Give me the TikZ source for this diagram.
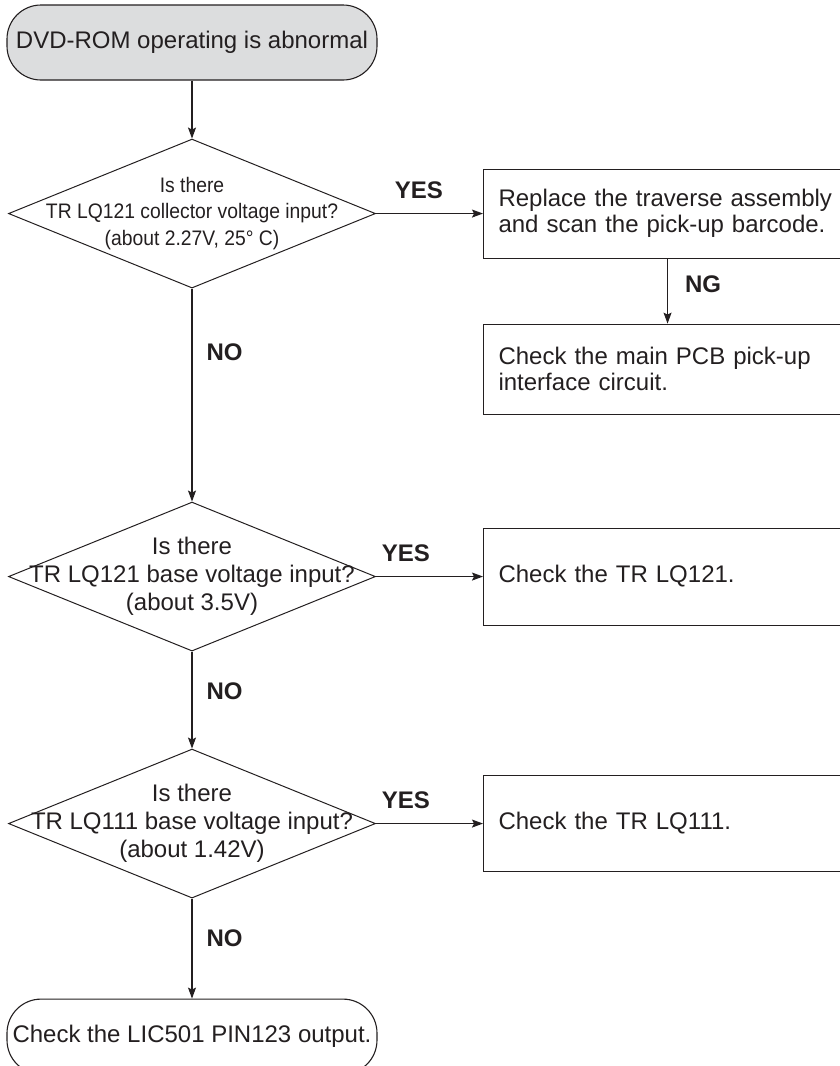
\documentclass[tikz,border=0pt]{standalone}
\usepackage{fontspec}
\setmainfont{Liberation Sans}
\newfontfamily\narrowfont{Liberation Sans}[FakeStretch=0.92]
\usetikzlibrary{arrows.meta,positioning,shapes.geometric}
\definecolor{ink}{HTML}{231F20}
\definecolor{termgray}{HTML}{DCDDDE}
\newcommand\qtext[1]{\makebox[0pt]{\begin{tabular}{@{}c@{}}#1\end{tabular}}}

\begin{document}
\begin{tikzpicture}[x=1pt, y=1pt, font=\fontsize{24}{26}\selectfont, color=ink,
  term/.style={draw, rounded corners=34pt, minimum width=370pt, minimum height=75pt, inner sep=0pt, line width=1.1pt, fill=#1},
  term/.default=white,
  quest/.style={diamond, draw, aspect=2.46, minimum width=367pt, minimum height=149pt, inner sep=0pt, line width=1pt, font=\fontsize{24}{28}\selectfont},
  act/.style={draw, align=left, text width=338pt, inner xsep=15pt, inner ysep=0pt, line width=1.1pt, minimum height=#1},
  act/.default=90pt,
  arr/.style={-{Stealth[length=11pt, width=8pt, inset=2pt]}, line width=1.1pt},
  ans/.style={font=\bfseries\fontsize{24}{26}\selectfont, inner sep=2pt}]
\useasboundingbox (0,0) rectangle (840,-1066);
\clip (0,0) rectangle (840,-1066);
% main column
\node[term=termgray] (start) at (192,-42.5) {DVD-ROM operating is abnormal};
\node[quest, font=\narrowfont\fontsize{21}{26.5}\selectfont, below=58pt of start] (q1) {\qtext{Is there\\TR LQ121 collector voltage input?\\(about 2.27V, 25° C)}};
\node[quest, below=213pt of q1] (q2) {\qtext{Is there\\TR LQ121 base voltage input?\\(about 3.5V)}};
\node[quest, below=97pt of q2] (q3) {\qtext{Is there\\TR LQ111 base voltage input?\\(about 1.42V)}};
\node[term, below=100pt of q3] (final) {Check the LIC501 PIN123 output.};
% right column
\node[act=89pt, right=107pt of q1] (swap) {Replace the traverse assembly\\and scan the pick-up barcode.};
\node[act=90pt, below=65pt of swap] (pcb) {Check the main PCB pick-up\\interface circuit.};
\node[act=97pt, right=107pt of q2] (lq121) {Check the TR LQ121.};
\node[act=96pt, right=107pt of q3] (lq111) {Check the TR LQ111.};
\draw[arr] (start) -- (q1);
\draw[arr] (q1) -- node[ans, above=12pt, pos=0.4]{YES} (swap);
\draw[arr] (swap) -- node[ans, right=15pt, pos=0.4]{NG} (pcb);
\draw[arr] (q1) -- node[ans, right=12pt, pos=0.3]{NO} (q2);
\draw[arr] (q2) -- node[ans, above=12pt, pos=0.28]{YES} (lq121);
\draw[arr] (q2) -- node[ans, right=12pt, pos=0.41]{NO} (q3);
\draw[arr] (q3) -- node[ans, above=12pt, pos=0.28]{YES} (lq111);
\draw[arr] (q3) -- node[ans, right=12pt, pos=0.4]{NO} (final);
\end{tikzpicture}
\end{document}
